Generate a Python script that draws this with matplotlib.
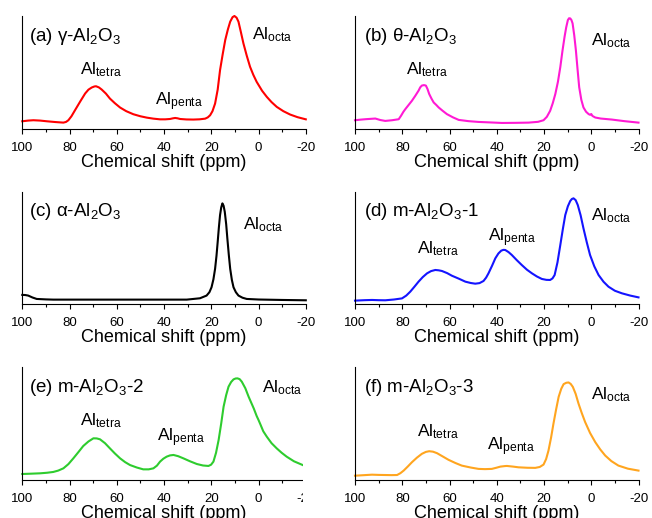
import matplotlib
matplotlib.use('Agg')
import matplotlib.pyplot as plt
from matplotlib.patches import Rectangle
from matplotlib.ticker import MultipleLocator

plt.rcParams['font.family'] = ['Liberation Sans', 'DejaVu Sans']
plt.rcParams['mathtext.default'] = 'regular'
plt.rcParams['axes.unicode_minus'] = False

# 27Al NMR spectra, intensity normalised to the axes height
ppm_a = [100, 97.5, 95.3, 92.5, 89.7, 86, 82.6, 81.5, 80.5, 79.2, 77.7, 75.5, 73.4, 72, 70.6,
         69.5, 68.8, 67.6, 66.4, 64.6, 62.9, 60.8, 58.6, 56, 53, 50, 47.3, 44.5, 41.7, 39.5,
         37.5, 36.2, 35.3, 34.3, 33.2, 30.5, 27.6, 25, 22.6, 21.5, 20.5, 19.5, 18.4, 17.3,
         16.3, 15.2, 14.1, 13.0, 12.0, 11.0, 10.2, 9.3, 8.5, 7.5, 6.4, 5.0, 3.6, 2.2, 0.8,
         -1.5, -3.5, -5.5, -7.7, -10.5, -13.4, -16.5, -20]
int_a = [0.071, 0.077, 0.080, 0.077, 0.071, 0.064, 0.059, 0.065, 0.080, 0.115, 0.168, 0.245,
         0.316, 0.350, 0.369, 0.378, 0.380, 0.370, 0.351, 0.315, 0.271, 0.230, 0.192, 0.160,
         0.133, 0.115, 0.103, 0.094, 0.088, 0.088, 0.091, 0.097, 0.100, 0.097, 0.091, 0.087,
         0.086, 0.088, 0.094, 0.105, 0.124, 0.160, 0.227, 0.350, 0.522, 0.660, 0.788, 0.880,
         0.950, 0.990, 1.0, 0.985, 0.950, 0.860, 0.758, 0.650, 0.552, 0.480, 0.419, 0.340,
         0.286, 0.240, 0.198, 0.160, 0.130, 0.107, 0.088]

ppm_b = [100, 97.8, 95.6, 93.5, 91.4, 89.3, 87.2, 84.3, 81.5, 80.5, 79.5, 78.7, 77.3, 75.9,
         74.5, 73.1, 72.4, 71.7, 70.8, 70.0, 69.3, 68.6, 67.6, 66.7, 65.6, 64.6, 63, 61.1,
         58.5, 56.1, 52, 47.7, 42, 37.8, 32, 26.5, 22.5, 20.2, 18.8, 17.4, 16.3, 15.2, 14.1,
         13.1, 12.2, 11.3, 10.6, 9.9, 9.4, 8.9, 8.4, 7.9, 7.2, 6.5, 5.8, 5.1, 4.2, 3.3, 2.2,
         1.1, 0.5, 0.0, -0.5, -1.7, -4, -8.7, -14, -20]
int_b = [0.080, 0.085, 0.089, 0.092, 0.095, 0.082, 0.074, 0.080, 0.089, 0.120, 0.155, 0.178,
         0.215, 0.252, 0.295, 0.341, 0.370, 0.386, 0.390, 0.386, 0.355, 0.312, 0.270, 0.237,
         0.215, 0.193, 0.165, 0.134, 0.105, 0.083, 0.072, 0.065, 0.060, 0.056, 0.057, 0.059,
         0.066, 0.080, 0.110, 0.163, 0.230, 0.312, 0.420, 0.549, 0.690, 0.816, 0.900, 0.964,
         0.980, 0.979, 0.965, 0.935, 0.830, 0.697, 0.530, 0.371, 0.260, 0.193, 0.155, 0.134,
         0.128, 0.135, 0.118, 0.104, 0.095, 0.086, 0.072, 0.059]

ppm_c = [100, 98.8, 97.5, 95.7, 93.9, 90, 86.9, 70, 58.6, 45, 30.4, 24.8, 22.0, 20.8, 19.9,
         19.1, 18.4, 17.8, 17.3, 16.8, 16.3, 15.8, 15.3, 14.8, 14.3, 13.7, 13.2, 12.6, 12.0,
         11.3, 10.6, 9.6, 8.5, 6.8, 5.0, 0, -10, -20]
int_c = [0.081, 0.080, 0.075, 0.058, 0.045, 0.041, 0.039, 0.039, 0.039, 0.039, 0.039, 0.051,
         0.075, 0.105, 0.149, 0.220, 0.313, 0.430, 0.552, 0.680, 0.791, 0.860, 0.896, 0.875,
         0.821, 0.710, 0.582, 0.440, 0.313, 0.215, 0.149, 0.105, 0.075, 0.056, 0.045, 0.040,
         0.036, 0.033]

ppm_d = [100, 96, 92.8, 90, 87.2, 83.5, 80.1, 78.3, 76.6, 74.8, 73.1, 71.3, 69.5, 67.8, 66.0,
         64.6, 63.2, 61, 59.0, 56, 53.3, 51, 49.1, 47.3, 45.6, 44.5, 43.5, 42, 40.6, 39.3,
         38.1, 37.2, 36.4, 35, 33.6, 31.5, 29.4, 27.2, 25.1, 23, 20.9, 19, 17.4, 16.4, 15.5,
         14.3, 13.1, 12, 11.0, 9.9, 8.9, 8.2, 7.5, 6.6, 5.7, 4.5, 3.3, 1.9, 0.5, -1.3, -3.1,
         -5.2, -7.3, -10, -13.0, -16.5, -20]
int_d = [0.030, 0.034, 0.036, 0.034, 0.033, 0.040, 0.050, 0.075, 0.110, 0.155, 0.199, 0.240,
         0.273, 0.293, 0.303, 0.300, 0.294, 0.275, 0.252, 0.225, 0.199, 0.187, 0.181, 0.186,
         0.205, 0.235, 0.273, 0.340, 0.407, 0.450, 0.475, 0.482, 0.481, 0.462, 0.436, 0.390,
         0.347, 0.305, 0.273, 0.245, 0.223, 0.215, 0.214, 0.228, 0.258, 0.370, 0.525, 0.670,
         0.792, 0.870, 0.917, 0.935, 0.941, 0.925, 0.881, 0.790, 0.674, 0.550, 0.436, 0.335,
         0.258, 0.198, 0.154, 0.118, 0.095, 0.075, 0.059]

ppm_e = [100, 96, 92.5, 89.5, 86.9, 84.8, 82.6, 80.5, 78.4, 76.3, 74.2, 72, 69.9, 68.5, 67.1,
         65, 62.9, 60.8, 58.6, 56.5, 54.4, 51.5, 48.8, 46.5, 44.5, 43, 41.7, 40.3, 38.9, 37.5,
         36.0, 34, 31.8, 29, 26.1, 23.5, 21.2, 20.1, 19.1, 18, 16.9, 15.8, 14.8, 13.7, 12.7,
         11.6, 10.6, 9.7, 8.9, 8.0, 7.1, 5.6, 4.2, 2, 0.8, 0.0, -0.8, -2, -3.5, -5.5, -7.7,
         -9.8, -11.9, -15, -18.7]
int_e = [0.053, 0.056, 0.059, 0.064, 0.071, 0.083, 0.103, 0.140, 0.191, 0.245, 0.300, 0.340,
         0.368, 0.367, 0.359, 0.325, 0.279, 0.234, 0.191, 0.158, 0.132, 0.110, 0.094, 0.094,
         0.103, 0.127, 0.162, 0.188, 0.206, 0.217, 0.221, 0.210, 0.191, 0.165, 0.141, 0.128,
         0.124, 0.135, 0.162, 0.240, 0.353, 0.500, 0.647, 0.750, 0.824, 0.865, 0.888, 0.896,
         0.897, 0.890, 0.868, 0.810, 0.735, 0.630, 0.565, 0.529, 0.490, 0.430, 0.382, 0.325,
         0.279, 0.240, 0.206, 0.165, 0.132]

ppm_f = [100, 96, 92.8, 90, 87.2, 84.5, 82.2, 80.8, 79.4, 77.7, 75.9, 73.8, 71.7, 70, 68.6,
         67, 65.3, 62.8, 60.4, 57.5, 54.8, 51, 47.7, 45, 42.1, 40.2, 38.5, 36.5, 35.7, 33,
         30.8, 27, 23.7, 21.8, 20.2, 19.1, 18.1, 17, 16.0, 14.9, 13.8, 12.7, 11.7, 10.6, 9.6,
         8.7, 7.8, 6.6, 5.4, 4, 2.6, 0.5, -1.7, -3.8, -5.9, -8.5, -11.5, -15.5, -20]
int_f = [0.038, 0.043, 0.047, 0.045, 0.044, 0.043, 0.044, 0.060, 0.083, 0.118, 0.157, 0.197,
         0.231, 0.248, 0.254, 0.250, 0.237, 0.207, 0.178, 0.150, 0.127, 0.110, 0.098, 0.096,
         0.098, 0.108, 0.118, 0.123, 0.124, 0.118, 0.112, 0.108, 0.107, 0.115, 0.136, 0.185,
         0.260, 0.375, 0.497, 0.620, 0.734, 0.805, 0.846, 0.858, 0.861, 0.848, 0.822, 0.760,
         0.675, 0.590, 0.512, 0.415, 0.334, 0.270, 0.216, 0.167, 0.127, 0.100, 0.083]

titles = [r'(a) γ-Al$_2$O$_3$', r'(b) θ-Al$_2$O$_3$', r'(c) α-Al$_2$O$_3$',
          r'(d) m-Al$_2$O$_3$-1', r'(e) m-Al$_2$O$_3$-2', r'(f) m-Al$_2$O$_3$-3']
colors = ['#ff0000', '#ff1ad4', '#000000', '#1414ff', '#2ecc2e', '#ffa51f']
series = [(ppm_a, int_a), (ppm_b, int_b), (ppm_c, int_c),
          (ppm_d, int_d), (ppm_e, int_e), (ppm_f, int_f)]

# peak labels: (text, ppm, intensity)
labels = [
    [('Al$_{tetra}$', 75.6, 0.485), ('Al$_{penta}$', 43.8, 0.214), ('Al$_{octa}$', 2.6, 0.794)],
    [('Al$_{tetra}$', 78.3, 0.483), ('Al$_{octa}$', 0.0, 0.742)],
    [('Al$_{octa}$', 6.4, 0.663)],
    [('Al$_{tetra}$', 73.8, 0.451), ('Al$_{penta}$', 43.7, 0.561), ('Al$_{octa}$', 0.0, 0.748)],
    [('Al$_{tetra}$', 75.6, 0.479), ('Al$_{penta}$', 43.1, 0.338), ('Al$_{octa}$', -1.4, 0.770)],
    [('Al$_{tetra}$', 73.8, 0.388), ('Al$_{penta}$', 44.2, 0.265), ('Al$_{octa}$', 0.0, 0.712)],
]

W, H = 652, 518
fig = plt.figure(figsize=(W / 100, H / 100), dpi=100)

lefts = [22.3, 355]
rows = [(16, 129.3), (191.7, 304), (366.7, 480)]
aw = 283.5

for i in range(6):
    r, c = divmod(i, 2)
    top, bot = rows[r]
    ax = fig.add_axes([lefts[c] / W, 1 - bot / H, aw / W, (bot - top) / H])
    x, y = series[i]
    ax.plot(x, y, color=colors[i], lw=1.5, clip_on=False, solid_joinstyle='round')
    ax.set_xlim(100, -20)
    ax.set_ylim(0, 1)
    ax.spines['top'].set_visible(False)
    ax.spines['right'].set_visible(False)
    ax.spines['left'].set_linewidth(0.8)
    ax.spines['bottom'].set_linewidth(0.8)
    ax.set_yticks([])
    ax.xaxis.set_major_locator(MultipleLocator(20))
    ax.xaxis.set_minor_locator(MultipleLocator(10))
    ax.tick_params(axis='x', which='major', direction='out', length=3.5, width=0.8,
                   labelsize=9.5, pad=5.5)
    ax.tick_params(axis='x', which='minor', direction='out', length=2.5, width=0.8)
    ax.set_xlabel('Chemical shift (ppm)', fontsize=13, labelpad=0)
    tx = 0.025 if c == 0 else 0.031
    ax.text(tx, 0.78, titles[i], transform=ax.transAxes, fontsize=13.5,
            ha='left', va='baseline')
    for txt, px, py in labels[i]:
        ax.text(px, py, txt, fontsize=12.5, ha='left', va='baseline')

# the bottom-left panel is cut off at the right in the original figure
fig.add_artist(Rectangle((303 / W, 0), 27 / W, 150 / H, transform=fig.transFigure,
                         facecolor='white', edgecolor='none', zorder=10))

fig.savefig('out.png', dpi=100)
